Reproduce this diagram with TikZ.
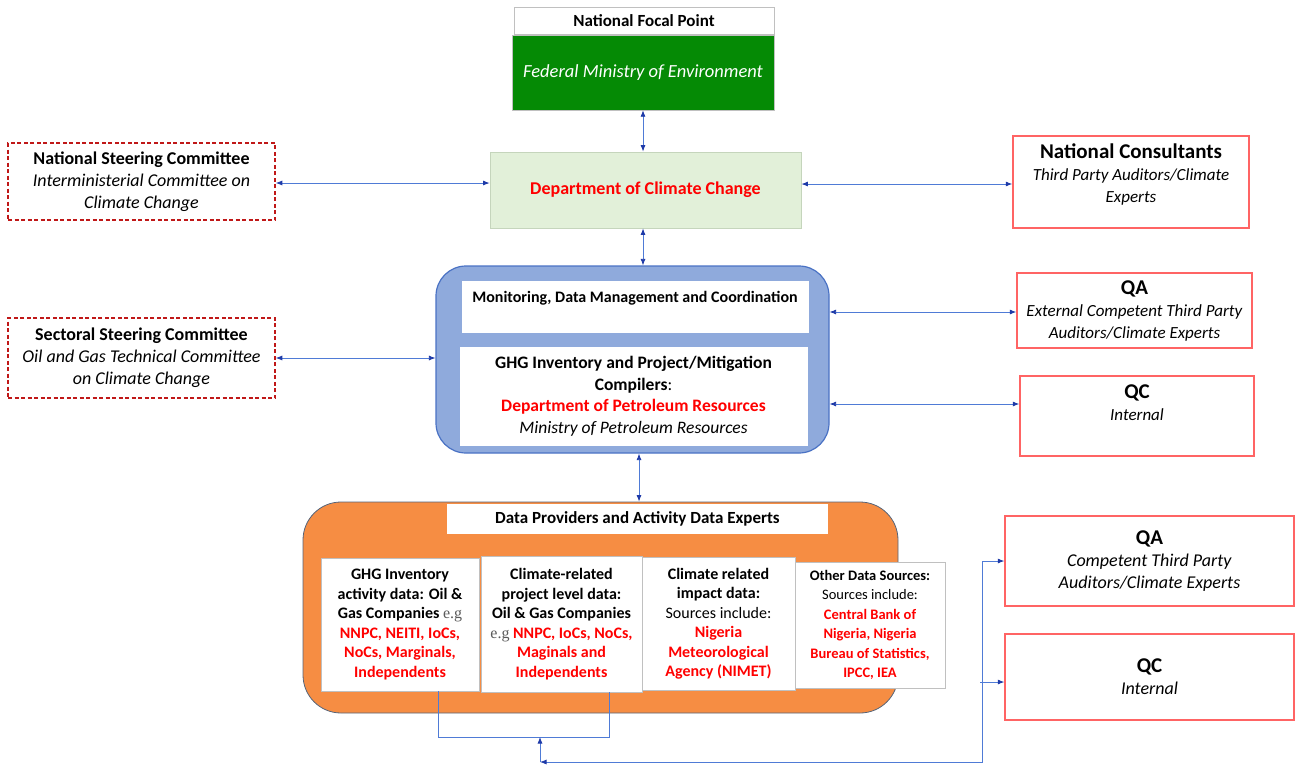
\documentclass[tikz,border=0pt]{standalone}
\usepackage{fontspec}
\setmainfont{Carlito}
\newfontfamily\egfont{Liberation Serif}
\usetikzlibrary{arrows.meta, calc, positioning}
\definecolor{verdescuro}{HTML}{058A05}
\definecolor{verdechiaro}{HTML}{E2F0D9}
\definecolor{verdebordo}{HTML}{C5D5BC}
\definecolor{azzurro}{HTML}{8FAADC}
\definecolor{bordoblu}{HTML}{4A72C4}
\definecolor{arancio}{HTML}{F68D43}
\definecolor{bordoarancio}{HTML}{55647A}
\definecolor{rossoscuro}{HTML}{C01818}
\definecolor{rossochiaro}{HTML}{FF6464}
\definecolor{rossotesto}{HTML}{FF0000}
\definecolor{grigiobordo}{HTML}{C0C0C0}
\definecolor{grigioeg}{HTML}{5A5A5A}
\definecolor{lineablu}{HTML}{4F7BD6}
\definecolor{puntablu}{HTML}{1E3AA8}
\newcommand{\rosso}[1]{\textcolor{rossotesto}{#1}}
\newcommand{\titolo}[1]{{\bfseries\fontsize{21}{22}\selectfont #1}}
\tikzset{
  riquadro/.style={draw=grigiobordo,fill=white,line width=0.8pt,align=center,inner sep=2pt},
  comitato/.style={draw=rossoscuro,fill=white,line width=1.6pt,dash pattern=on 4pt off 2.5pt,align=center,
    font=\fontsize{18}{22}\selectfont},
  esterno/.style={draw=rossochiaro,fill=white,line width=1.4pt,align=center,
    font=\fontsize{17}{22}\selectfont},
  fonte/.style={riquadro,font=\bfseries\fontsize{16}{19.5}\selectfont},
  filo/.style={draw=lineablu,line width=0.8pt},
  >={Latex[length=6.5pt,width=5pt,color=puntablu]}
}

\begin{document}
\begin{tikzpicture}[x=1pt,y=-1pt]
\useasboundingbox (0,0) rectangle (1297,766);

% punto focale nazionale
\node[riquadro,minimum width=260pt,minimum height=27pt,font=\bfseries\fontsize{17}{20}\selectfont] (nfp) at (644,20.5) {National Focal Point};
\node[draw=grigiobordo,fill=verdescuro,text=white,minimum width=262pt,minimum height=75pt,
  font=\itshape\fontsize{18.5}{22}\selectfont] (fme) at (643,72.5) {Federal Ministry of Environment};
\node[draw=verdebordo,fill=verdechiaro,line width=0.8pt,minimum width=311pt,minimum height=76pt,text=rossotesto,
  font=\bfseries\fontsize{18}{22}\selectfont] (dcc) at (645.5,190) {Department of Climate Change};

% comitati di indirizzo
\node[comitato,minimum width=267pt,minimum height=77pt] (nsc) at (141.5,181.5)
  {\textbf{National Steering Committee}\\\textit{Interministerial Committee on}\\\textit{Climate Change}};
\node[comitato,minimum width=267pt,minimum height=80pt] (ssc) at (141.5,358)
  {\textbf{Sectoral Steering Committee}\\\textit{Oil and Gas Technical Committee}\\\textit{on Climate Change}};

% consulenti e controlli QA/QC
\node[esterno,minimum width=236pt,minimum height=92pt,text depth=18pt] (nc) at (1131,182)
  {\titolo{National Consultants}\\\textit{Third Party Auditors/Climate}\\\textit{Experts}};
\node[esterno,minimum width=235pt,minimum height=75pt] (qa1) at (1134.5,310.5)
  {\titolo{QA}\\\textit{External Competent Third Party}\\\textit{Auditors/Climate Experts}};
\node[esterno,minimum width=234pt,minimum height=80pt,text depth=26pt] (qc1) at (1137,416)
  {\titolo{QC}\\\textit{Internal}};

% blocco di coordinamento
\node[draw=bordoblu,fill=azzurro,line width=1.2pt,rounded corners=30pt,minimum width=393pt,minimum height=187pt] (mdm) at (632.5,359.5) {};
\node[riquadro,draw=white,minimum width=346pt,minimum height=51pt,text height=11pt,text depth=20pt,
  font=\bfseries\fontsize{16}{19}\selectfont] (mon) at (635,306.5) {Monitoring, Data Management and Coordination};
\node[riquadro,draw=white,minimum width=347pt,minimum height=98pt,font=\fontsize{17.5}{21.5}\selectfont] (comp) at (633.5,396)
  {\textbf{GHG Inventory and Project/Mitigation}\\\textbf{Compilers}:\\\rosso{\textbf{Department of Petroleum Resources}}\\\textit{Ministry of Petroleum Resources}};

% fornitori di dati
\node[draw=bordoarancio,fill=arancio,line width=0.8pt,rounded corners=38pt,minimum width=595pt,minimum height=211pt] (dp) at (600.5,607.5) {};
\node[fill=white,minimum width=381pt,minimum height=30pt,font=\bfseries\fontsize{17}{20}\selectfont] (dpe) at (637.5,519) {Data Providers and Activity Data Experts};
\node[fonte,minimum width=158pt,minimum height=133pt] (b1) at (400,624.5)
  {GHG Inventory\\activity data: Oil \&\\Gas Companies {\egfont\mdseries\color{grigioeg}e.g}\\\rosso{NNPC, NEITI, IoCs,}\\\rosso{NoCs, Marginals,}\\\rosso{Independents}};
\node[fonte,minimum width=161pt,minimum height=136pt] (b2) at (561.5,624)
  {Climate-related\\project level data:\\Oil \& Gas Companies\\{\egfont\mdseries\color{grigioeg}e.g} \rosso{NNPC, IoCs, NoCs,}\\\rosso{Maginals and}\\\rosso{Independents}};
\node[fonte,minimum width=153pt,minimum height=133pt] (b3) at (718.5,623.5)
  {Climate related\\impact data:\\{\mdseries Sources include:}\\\rosso{Nigeria}\\\rosso{Meteorological}\\\rosso{Agency (NIMET)}};
\node[fonte,minimum width=150pt,minimum height=126pt,inner sep=1pt,font=\bfseries\fontsize{14.5}{19.5}\selectfont] (b4) at (870,625)
  {Other Data Sources:\\{\mdseries Sources include:}\\\rosso{Central Bank of}\\\rosso{Nigeria, Nigeria}\\\rosso{Bureau of Statistics,}\\\rosso{IPCC, IEA}};
\node[esterno,minimum width=289pt,minimum height=90pt,font=\fontsize{18}{22}\selectfont] (qa2) at (1149.5,561)
  {\titolo{QA}\\\textit{Competent Third Party}\\\textit{Auditors/Climate Experts}};
\node[esterno,minimum width=289pt,minimum height=86pt,font=\fontsize{18}{22}\selectfont] (qc2) at (1149.5,677)
  {\titolo{QC}\\\textit{Internal}};

% collegamenti verticali
\draw[filo,<->] (fme.south) -- (fme.south |- dcc.north);
\draw[filo,<->] ([xshift=-2.5pt]dcc.south) -- ([xshift=-2.5pt]dcc.south |- mdm.north);
\draw[filo,<->] ([xshift=6.5pt]mdm.south) -- ([xshift=6.5pt]mdm.south |- dp.north);

% collegamenti orizzontali
\draw[filo,<->] ([yshift=-1.5pt]nsc.east) -- ([yshift=-1.5pt]nsc.east -| dcc.west);
\draw[filo,<->] (ssc.east) -- (ssc.east -| mdm.west);
\draw[filo,<->] ([yshift=-2pt]nc.west -| dcc.east) -- ([yshift=-2pt]nc.west);
\draw[filo,<->] ([yshift=-1.5pt]qa1.west -| mdm.east) -- ([yshift=-1.5pt]qa1.west);
\coordinate (qcin) at ([yshift=12pt]qc1.west);
\draw[filo,<->] (qcin -| mdm.east) -- (qcin);

% ritorno dai controlli QA/QC
\coordinate (brl) at (438,737);
\coordinate (brr) at (609,737);
\coordinate (giu) at (540,737);
\coordinate (fondo) at (540,762);
\coordinate (ritorno) at (982,762);
\coordinate (stacco) at (980,682);
\draw[filo] (b1.south -| brl) -- (brl) -- (brr) -- (b2.south -| brr);
\draw[filo,->] (fondo) -- (giu);
\draw[filo,<->] (fondo) -- (ritorno) |- (qa2.west);
\draw[filo,->] (stacco) -- (stacco -| qc2.west);

\end{tikzpicture}
\end{document}
